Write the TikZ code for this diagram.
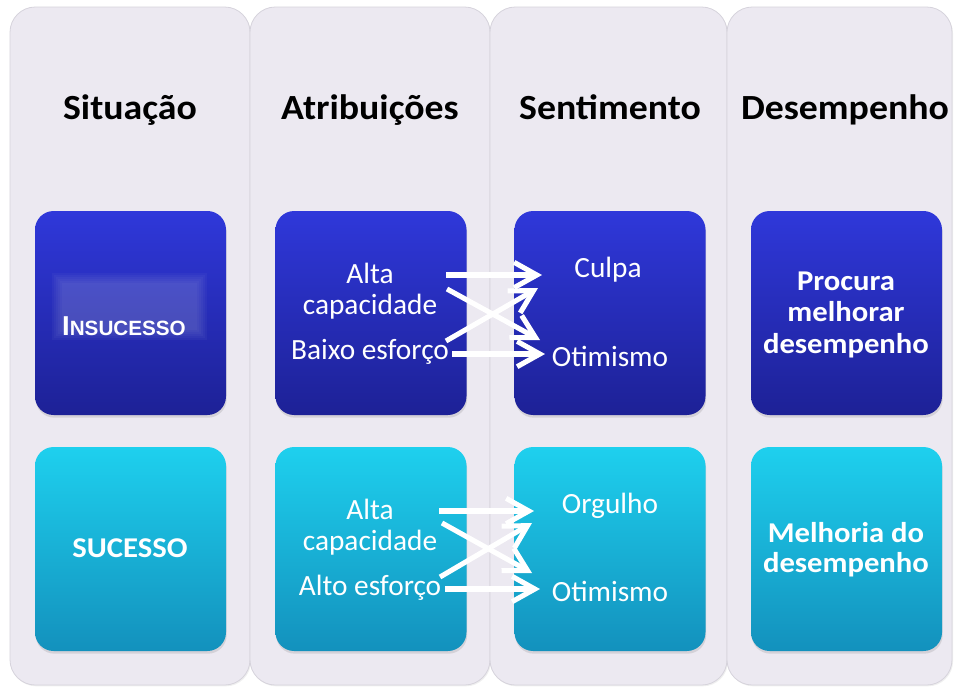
\documentclass[tikz,border=0pt]{standalone}
\usepackage{fontspec}
\setmainfont{Carlito}
\newfontfamily\widefont{Carlito}[FakeStretch=1.07]
\newfontfamily\arialfont{Liberation Sans}
\usetikzlibrary{arrows.meta,shadows}
\definecolor{panelfill}{HTML}{ECE9F1}
\definecolor{panelline}{HTML}{D6D3DC}
\definecolor{darktop}{HTML}{2F38DA}
\definecolor{darkbot}{HTML}{1D2196}
\definecolor{cyantop}{HTML}{1ED0EE}
\definecolor{cyanbot}{HTML}{1391BD}
\definecolor{glow}{HTML}{A0A4D8}
\tikzset{
  panel/.style={draw=panelline, line width=0.6pt, fill=panelfill, rounded corners=19pt,
    inner sep=0pt, drop shadow={shadow xshift=0.8pt, shadow yshift=-1pt, opacity=0.12}},
  boxbase/.style={rounded corners=14pt, inner sep=0pt, minimum width=143.25pt, minimum height=153pt,
    drop shadow={shadow xshift=0.5pt, shadow yshift=-2pt, opacity=0.22}},
  darkbox/.style={boxbase, top color=darktop, bottom color=darkbot},
  cyanbox/.style={boxbase, top color=cyantop, bottom color=cyanbot},
  header/.style={font=\widefont\bfseries\fontsize{26.5}{30}\selectfont, text=black, anchor=base, inner sep=0pt},
  wtxt/.style={font=\fontsize{22}{24}\selectfont, text=white, anchor=base, inner sep=0pt},
  wbold/.style={font=\widefont\bfseries\fontsize{21.5}{24}\selectfont, text=white, anchor=base, inner sep=0pt},
  arr/.style={draw=white, line width=3.8pt, -{Straight Barb[length=17pt,width=19pt]}},
}
\begin{document}
\begin{tikzpicture}[x=0.75pt,y=-0.75pt]
\useasboundingbox (0,0) rectangle (955,686);
\fill[white] (0,0) rectangle (955,686);

% panels
\node[panel, minimum width=180pt, minimum height=508.5pt] (p1) at (130,346) {};
\node[panel, minimum width=180pt, minimum height=508.5pt] (p2) at (370,346) {};
\node[panel, minimum width=177.75pt, minimum height=508.5pt] (p3) at (608.5,346) {};
\node[panel, minimum width=168.75pt, minimum height=508.5pt] (p4) at (839.5,346) {};

% headers
\node[header] (h1) at (130,119) {Situação};
\node[header] (h2) at (370,119) {Atribuições};
\node[header] (h3) at (610,119) {Sentimento};
\node[header] (h4) at (845,119) {Desempenho};

% boxes
\node[darkbox] (b1) at (130.5,313) {};
\node[darkbox] (b2) at (371,313) {};
\node[darkbox] (b3) at (610,313) {};
\node[darkbox] (b4) at (846.5,313) {};
\node[cyanbox] (c1) at (130.5,549) {};
\node[cyanbox] (c2) at (371,549) {};
\node[cyanbox] (c3) at (610,549) {};
\node[cyanbox] (c4) at (846.5,549) {};

% soft glow behind INSUCESSO
\foreach \d in {0,2,4,6,8,10}{
  \fill[glow, opacity=0.06] (52+\d,273+\d) rectangle (207-\d,340-\d);
}

% texts row 1
\node[text=white, anchor=base, inner sep=0pt, font=\arialfont\bfseries] (t1) at (124,335)
  {\fontsize{20.5}{22}\selectfont I\fontsize{15.5}{17}\selectfont NSUCESSO};
\node[wtxt] (t2a) at (370,283) {Alta};
\node[wtxt] (t2b) at (370,314) {capacidade};
\node[wtxt] (t2c) at (370,359) {Baixo esforço};
\node[wtxt] (t3a) at (608,277) {Culpa};
\node[wtxt] (t3b) at (610,366) {Otimismo};
\node[wbold] (t4a) at (846,290) {Procura};
\node[wbold] (t4b) at (846,321) {melhorar};
\node[wbold] (t4c) at (846,353) {desempenho};

% texts row 2
\node[wbold] (s1) at (130,557) {SUCESSO};
\node[wtxt] (s2a) at (370,519) {Alta};
\node[wtxt] (s2b) at (370,550) {capacidade};
\node[wtxt] (s2c) at (370,595) {Alto esforço};
\node[wtxt] (s3a) at (610,513) {Orgulho};
\node[wtxt] (s3b) at (610,601) {Otimismo};
\node[wbold] (s4a) at (846,542) {Melhoria do};
\node[wbold] (s4b) at (846,572) {desempenho};

% arrow coordinates
\coordinate (a1s) at (446,275); \coordinate (a1e) at (542,275);
\coordinate (a2s) at (447,289); \coordinate (a2e) at (540,340);
\coordinate (a3s) at (446,341); \coordinate (a3e) at (538,288);
\coordinate (a4s) at (452,354); \coordinate (a4e) at (545,354);
\coordinate (c1s) at (439,511); \coordinate (c1e) at (534,511);
\coordinate (c2s) at (442,523); \coordinate (c2e) at (532,573);
\coordinate (c3s) at (440,577); \coordinate (c3e) at (532,523);
\coordinate (c4s) at (445,589); \coordinate (c4e) at (540,589);

\draw[arr] (a1s) -- (a1e);
\draw[arr] (a2s) -- (a2e);
\draw[arr] (a3s) -- (a3e);
\draw[arr] (a4s) -- (a4e);
\draw[arr] (c1s) -- (c1e);
\draw[arr] (c2s) -- (c2e);
\draw[arr] (c3s) -- (c3e);
\draw[arr] (c4s) -- (c4e);
\end{tikzpicture}
\end{document}
